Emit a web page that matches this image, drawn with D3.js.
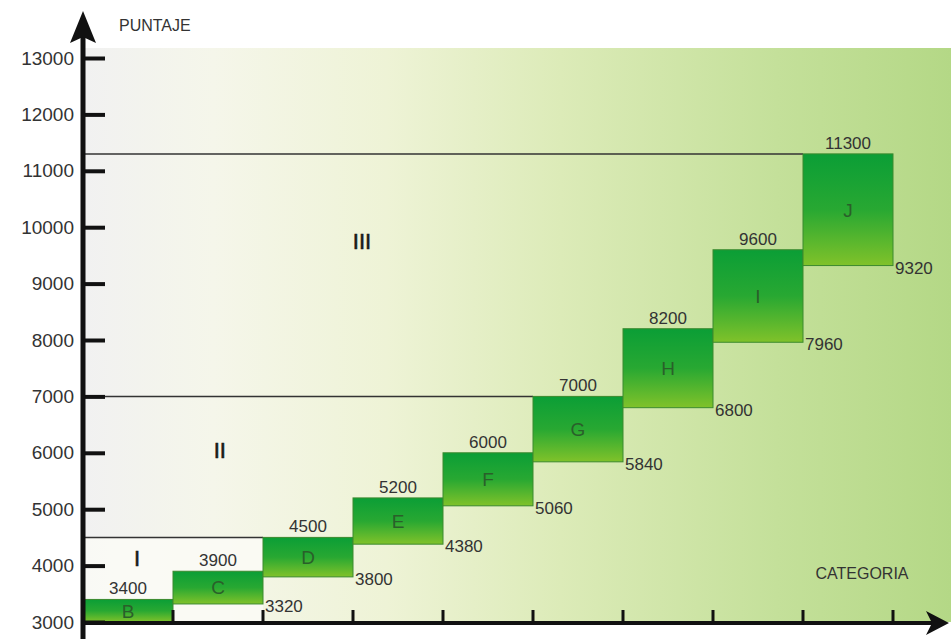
<!DOCTYPE html>
<html><head><meta charset="utf-8">
<script src="https://cdn.jsdelivr.net/npm/d3@7"></script>
<style>html,body{margin:0;padding:0;background:#fff;}svg{display:block;}</style>
</head><body>
<svg id="c" width="951" height="639"></svg>
<script>
const categories = ["B","C","D","E","F","G","H","I","J"];
const highValues = [3400,3900,4500,5200,6000,7000,8200,9600,11300];
const lowValues  = [3000,3320,3800,4380,5060,5840,6800,7960,9320];
const showLow    = [false,true,true,true,true,true,true,true,true];
const yTicks = [3000,4000,5000,6000,7000,8000,9000,10000,11000,12000,13000];
const zoneLimits = [4500,7000,11300];
const zoneEndCats = ["D","G","J"];
const zoneNames = ["I","II","III"];
const zoneLabelPos = [[0.6,3990],[1.52,5910],[3.1,9620]]; // [band index position, value]

const svg = d3.select("#c");
const font = "'Liberation Sans', Arial, sans-serif";
const x = d3.scaleBand().domain(categories).range([83,893]).padding(0);
const y = d3.scaleLinear().domain([3000,13000]).range([622,58]);
const xi = d3.scaleLinear().domain([0,categories.length]).range([83,893]);

const defs = svg.append("defs");
const bg = defs.append("linearGradient").attr("id","bg").attr("x1","0").attr("x2","1").attr("y1","0").attr("y2","0");
[[0,"#f1f1f1"],[0.15,"#f5f6ea"],[0.35,"#eef3d6"],[0.55,"#dcebb8"],[0.8,"#c4e09a"],[1,"#b4d886"]]
  .forEach(([o,c])=>bg.append("stop").attr("offset",o).attr("stop-color",c));
const bx = defs.append("linearGradient").attr("id","box").attr("x1","0").attr("x2","0").attr("y1","0").attr("y2","1");
[[0,"#0b9e36"],[0.5,"#28a832"],[1,"#80c22a"]]
  .forEach(([o,c])=>bx.append("stop").attr("offset",o).attr("stop-color",c));

// background
svg.append("rect").attr("x",83).attr("y",48).attr("width",951-83).attr("height",622-48).attr("fill","url(#bg)");
// zone I lighter area
svg.append("rect").attr("x",83).attr("y",y(4500)).attr("width",x("D")-83).attr("height",y(3000)-y(4500))
  .attr("fill","#fbfbf6").attr("opacity",0.8);

// zone lines
svg.selectAll("line.zone").data(zoneLimits).enter().append("line")
  .attr("x1",83).attr("x2",(d,i)=>x(zoneEndCats[i])).attr("y1",d=>y(d)).attr("y2",d=>y(d))
  .attr("stroke","#333").attr("stroke-width",1.5);

// zone labels
svg.selectAll("text.zone").data(zoneNames).enter().append("text")
  .attr("x",(d,i)=>xi(zoneLabelPos[i][0])).attr("y",(d,i)=>y(zoneLabelPos[i][1]))
  .attr("text-anchor","middle").attr("font-family",font).attr("font-size",22)
  .attr("fill","#1a1a1a").attr("stroke","#1a1a1a").attr("stroke-width",0.6).text(d=>d);

// boxes
const data = categories.map((c,i)=>({c,hi:highValues[i],lo:lowValues[i],show:showLow[i]}));
const g = svg.append("g");
g.selectAll("rect.box").data(data).enter().append("rect")
  .attr("x",d=>x(d.c)).attr("y",d=>y(d.hi)).attr("width",x.bandwidth()).attr("height",d=>y(d.lo)-y(d.hi))
  .attr("fill","url(#box)").attr("stroke","#3b8a2e").attr("stroke-width",1);
g.selectAll("text.cat").data(data).enter().append("text")
  .attr("x",d=>x(d.c)+x.bandwidth()/2).attr("y",d=>(y(d.hi)+y(d.lo))/2)
  .attr("dy","0.36em").attr("text-anchor","middle").attr("font-family",font).attr("font-size",19)
  .attr("fill","#2a5f2a").text(d=>d.c);
g.selectAll("text.hi").data(data).enter().append("text")
  .attr("x",d=>x(d.c)+x.bandwidth()/2).attr("y",d=>y(d.hi)-5)
  .attr("text-anchor","middle").attr("font-family",font).attr("font-size",17)
  .attr("fill","#333").text(d=>d.hi);
g.selectAll("text.lo").data(data.filter(d=>d.show)).enter().append("text")
  .attr("x",d=>x(d.c)+x.bandwidth()+2).attr("y",d=>y(d.lo)+2).attr("dy","0.36em")
  .attr("text-anchor","start").attr("font-family",font).attr("font-size",17)
  .attr("fill","#333").text(d=>d.lo);

// x axis ticks at band edges
svg.selectAll("line.xt").data(categories).enter().append("line")
  .attr("x1",d=>x(d)+x.bandwidth()).attr("x2",d=>x(d)+x.bandwidth())
  .attr("y1",622).attr("y2",610).attr("stroke","#111").attr("stroke-width",3);
// x axis line
svg.append("line").attr("x1",83).attr("x2",935).attr("y1",623).attr("y2",623).attr("stroke","#111").attr("stroke-width",4);
svg.append("path").attr("d","M949,623 L926,611 L932,623 L926,635 Z").attr("fill","#111");

// y axis
const ya = d3.axisLeft(y).tickValues(yTicks).tickSize(-22).tickPadding(9).tickFormat(d3.format("d"));
const yg = svg.append("g").attr("transform","translate(83,0)").call(ya);
yg.select(".domain").remove();
yg.selectAll(".tick line").attr("stroke","#111").attr("stroke-width",4);
yg.selectAll(".tick text").attr("font-family",font).attr("font-size",19).attr("fill","#333");
svg.append("line").attr("x1",83).attr("x2",83).attr("y1",36).attr("y2",639).attr("stroke","#111").attr("stroke-width",5);
svg.append("path").attr("d","M83,11 L96,43 L83,37 L70,43 Z").attr("fill","#111");

// axis titles
svg.append("text").attr("x",119).attr("y",31).attr("font-family",font).attr("font-size",16).attr("fill","#333").text("PUNTAJE");
svg.append("text").attr("x",862).attr("y",579).attr("text-anchor","middle").attr("font-family",font).attr("font-size",16).attr("fill","#333").text("CATEGORIA");
</script>
</body></html>
